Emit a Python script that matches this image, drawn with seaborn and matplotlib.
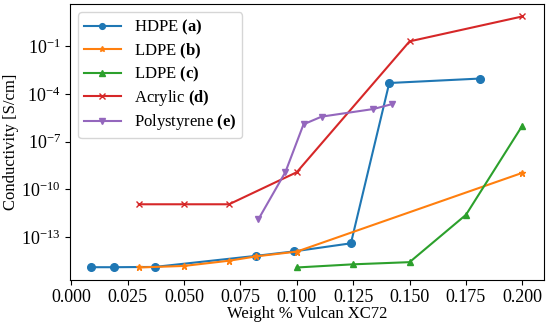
import matplotlib
matplotlib.use("Agg")
import matplotlib.pyplot as plt
import seaborn as sns

plt.rcParams['font.family'] = ['Liberation Serif', 'DejaVu Serif']
plt.rcParams['mathtext.fontset'] = 'custom'
plt.rcParams['mathtext.rm'] = 'Liberation Serif'
plt.rcParams['mathtext.bf'] = 'Liberation Serif:bold'

# data
hdpe_x = [0.009, 0.019, 0.037, 0.082, 0.099, 0.124, 0.141, 0.181]
hdpe_y = [1.25e-15, 1.25e-15, 1.3e-15, 6.5e-15, 1.25e-14, 4e-14, 5e-4, 9.5e-4]

ldpe_b_x = [0.03, 0.05, 0.07, 0.082, 0.1, 0.2]
ldpe_b_y = [1.2e-15, 1.5e-15, 3.2e-15, 6e-15, 1.2e-14, 1.1e-9]

ldpe_c_x = [0.1, 0.125, 0.15, 0.175, 0.2]
ldpe_c_y = [1.2e-15, 1.9e-15, 2.6e-15, 2.5e-12, 1.05e-6]

acrylic_x = [0.03, 0.05, 0.07, 0.1, 0.15, 0.2]
acrylic_y = [1.15e-11, 1.15e-11, 1.15e-11, 1.2e-9, 0.21, 7.8]

ps_x = [0.083, 0.095, 0.103, 0.111, 0.134, 0.142]
ps_y = [1.3e-12, 1.25e-9, 1.25e-6, 3.8e-6, 1.15e-5, 2.3e-5]

fig = plt.figure(figsize=(5.5, 3.23), dpi=100)
ax = fig.add_axes([0.127, 0.133, 0.862, 0.855])

series = [
    (hdpe_x, hdpe_y, "o", 5.5, "tab:blue", r"HDPE $\mathbf{(a)}$"),
    (ldpe_b_x, ldpe_b_y, "*", 5, "tab:orange", r"LDPE $\mathbf{(b)}$"),
    (ldpe_c_x, ldpe_c_y, "^", 5, "tab:green", r"LDPE $\mathbf{(c)}$"),
    (acrylic_x, acrylic_y, "x", 5, "tab:red", r"Acrylic $\mathbf{(d)}$"),
    (ps_x, ps_y, "v", 5, "tab:purple", r"Polystyrene $\mathbf{(e)}$"),
]
for xs, ys, m, ms, c, lab in series:
    sns.lineplot(x=xs, y=ys, marker=m, markersize=ms, markeredgewidth=1,
                 markeredgecolor=c, color=c, linewidth=1.5, label=lab, ax=ax)

ax.set_yscale("log")
ax.set_yticks([1e-13, 1e-10, 1e-7, 1e-4, 1e-1])
ax.minorticks_off()
ax.set_xticks([0.0, 0.025, 0.05, 0.075, 0.1, 0.125, 0.15, 0.175, 0.2])
ax.tick_params(labelsize=13, pad=3)
ax.set_xlabel("Weight % Vulcan XC72", fontsize=12, labelpad=0)
ax.set_ylabel("Conductivity [S/cm]", fontsize=12, labelpad=2)
ax.legend(loc="upper left", fontsize=12, handlelength=2.2, labelspacing=0.25,
          borderpad=0.35, markerscale=0.75)

fig.savefig("out.png", dpi=100)
